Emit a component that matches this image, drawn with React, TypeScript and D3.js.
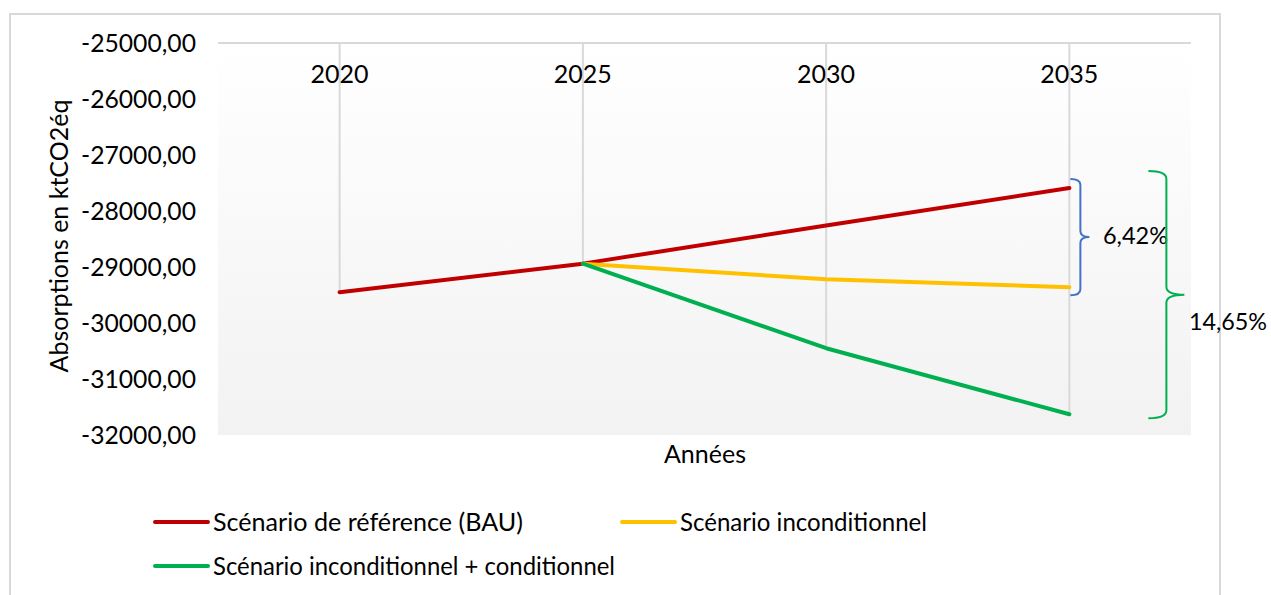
import React from "react";
import * as d3 from "d3";

const years = ["2020", "2025", "2030", "2035"];
const bau = [-29450, -28940, -28260, -27590];
const uncond: (number | null)[] = [null, -28940, -29220, -29360];
const cond: (number | null)[] = [null, -28940, -30450, -31630];
const yTicks = [-25000, -26000, -27000, -28000, -29000, -30000, -31000, -32000];
const seriesNames = ["Scénario de référence (BAU)", "Scénario inconditionnel", "Scénario inconditionnel + conditionnel"];
const seriesColors = ["#C00000", "#FFC000", "#00B050"];
const pctLabels = ["6,42%", "14,65%"];

const W = 1271, H = 595;
const plot = { left: 218, right: 1191, top: 43, bottom: 435 };
const FONT = "Lato, 'Open Sans', sans-serif";
const FS = 25;

function brace(x0: number, y0: number, y1: number, w: number, t: number, r: number) {
  const ym = (y0 + y1) / 2;
  const xv = x0 + w;
  return `M${x0},${y0} Q${xv},${y0} ${xv},${y0 + r} L${xv},${ym - r} Q${xv},${ym} ${xv + t},${ym} Q${xv},${ym} ${xv},${ym + r} L${xv},${y1 - r} Q${xv},${y1} ${x0},${y1}`;
}

export default function App() {
  const x = d3.scalePoint<string>().domain(years).range([plot.left, plot.right]).padding(0.5);
  const y = d3.scaleLinear().domain([-25000, -32000]).range([plot.top, plot.bottom]);
  const all = [bau, uncond, cond];
  const line = d3
    .line<number | null>()
    .defined((d) => d !== null)
    .x((_, i) => x(years[i]) as number)
    .y((d) => y(d as number));

  const fmt = (v: number) => d3.format(".2f")(v).replace(".", ",").replace("−", "-");

  const last = years.length - 1;
  const xr = x(years[last]) as number;
  const yRed = y(bau[last]);
  const yYel = y(uncond[last] as number);
  const yGrn = y(cond[last] as number);

  const legend = [
    { i: 0, lx: 155, ly: 522, len: 310 },
    { i: 1, lx: 622, ly: 522, len: 247 },
    { i: 2, lx: 155, ly: 566, len: 402 },
  ];

  return (
    <svg width={W} height={H} style={{ position: "absolute", left: 0, top: 0, display: "block" }} fontFamily={FONT}>
      <defs>
        <linearGradient id="pg" x1="0" y1="0" x2="0" y2="1">
          <stop offset="0%" stopColor="#ffffff" />
          <stop offset="100%" stopColor="#f2f2f2" />
        </linearGradient>
      </defs>
      <rect x={0} y={0} width={W} height={H} fill="#fff" />
      <rect x={10} y={14} width={1210} height={620} fill="#fff" stroke="#d9d9d9" strokeWidth={2} />
      <rect x={plot.left} y={plot.top} width={plot.right - plot.left} height={plot.bottom - plot.top} fill="url(#pg)" />
      {/* drop lines */}
      {years.map((yr, i) => {
        const vals = all.map((s) => s[i]).filter((v) => v !== null) as number[];
        const far = d3.max(vals.map((v) => y(v))) as number;
        return <line key={yr} x1={x(yr)} x2={x(yr)} y1={plot.top} y2={far} stroke="#d9d9d9" strokeWidth={2} />;
      })}
      <line x1={plot.left} x2={plot.right} y1={plot.top} y2={plot.top} stroke="#d9d9d9" strokeWidth={2} />
      {yTicks.map((t) => (
        <text key={t} x={81} y={y(t) + 9} fontSize={FS} fill="#000" textLength={115} lengthAdjust="spacingAndGlyphs">
          {fmt(t)}
        </text>
      ))}
      {years.map((yr) => (
        <text key={yr} x={x(yr)} y={83} textAnchor="middle" fontSize={FS} fill="#000">
          {yr}
        </text>
      ))}
      {all.map((s, i) => (
        <path key={i} d={line(s) as string} fill="none" stroke={seriesColors[i]} strokeWidth={4} strokeLinecap="round" strokeLinejoin="round" />
      ))}
      {/* braces */}
      <path d={brace(xr + 1, yRed - 9, yYel + 8, 10, 9, 6)} fill="none" stroke="#4472C4" strokeWidth={2} />
      <text x={1103} y={244} fontSize={24} fill="#000" textLength={65} lengthAdjust="spacingAndGlyphs">{pctLabels[0]}</text>
      <path d={brace(xr + 79, yRed - 17, yGrn + 4, 18, 18, 8)} fill="none" stroke="#00B050" strokeWidth={2} />
      <text x={1189} y={330} fontSize={24} fill="#000" textLength={78} lengthAdjust="spacingAndGlyphs">{pctLabels[1]}</text>
      {/* axis titles */}
      <text x={705} y={463} textAnchor="middle" fontSize={FS} fill="#000">Années</text>
      <text transform="translate(68,236) rotate(-90)" textAnchor="middle" fontSize={FS} fill="#000">Absorptions en ktCO2éq</text>
      {/* legend */}
      {legend.map(({ i, lx, ly, len }) => (
        <g key={i}>
          <line x1={lx} x2={lx + 53} y1={ly} y2={ly} stroke={seriesColors[i]} strokeWidth={4} strokeLinecap="round" />
          <text x={lx + 58} y={ly + 9} fontSize={FS} fill="#000" textLength={len} lengthAdjust="spacingAndGlyphs">{seriesNames[i]}</text>
        </g>
      ))}
    </svg>
  );
}
